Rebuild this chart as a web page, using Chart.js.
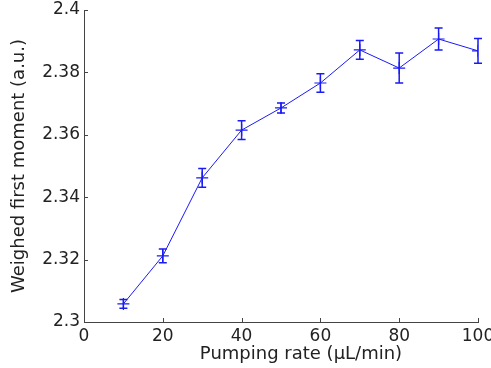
<!DOCTYPE html>
<html>
<head>
<meta charset="utf-8">
<script src="https://cdn.jsdelivr.net/npm/chart.js@4.4.0/dist/chart.umd.min.js"></script>
<style>
  html, body { margin: 0; padding: 0; background: #fff; }
  #wrap { width: 491px; height: 368px; }
</style>
</head>
<body>
<div id="wrap"><canvas id="momentChart"></canvas></div>
<script>
var pumpRates = [10, 20, 30, 40, 50, 60, 70, 80, 90, 100];
var firstMoment = [2.3058, 2.3212, 2.3462, 2.3615, 2.3686, 2.3766, 2.3872, 2.3814, 2.3907, 2.3869];
var momentErr = [0.0014, 0.0022, 0.003, 0.003, 0.0016, 0.003, 0.003, 0.0048, 0.0035, 0.004];
var xTicks = [0, 20, 40, 60, 80, 100];
var yTicks = [2.3, 2.32, 2.34, 2.36, 2.38, 2.4];

var axisColor = '#444';
var lineBlue = '#1a1af5';
var fontName = 'DejaVu Sans';

var points = pumpRates.map(function (r, i) {
    return { x: r, y: firstMoment[i] };
});

// error bars and inward tick marks, drawn through the chart scales
var extras = {
    id: 'extras',
    afterDatasetsDraw: function (chart) {
        var ctx = chart.ctx;
        var xs = chart.scales.x;
        var ys = chart.scales.y;
        var area = chart.chartArea;
        ctx.save();
        ctx.strokeStyle = lineBlue;
        ctx.lineWidth = 1.5;
        pumpRates.forEach(function (r, i) {
            var px = xs.getPixelForValue(r);
            var top = ys.getPixelForValue(firstMoment[i] + momentErr[i]);
            var bot = ys.getPixelForValue(firstMoment[i] - momentErr[i]);
            ctx.beginPath();
            ctx.moveTo(px, top); ctx.lineTo(px, bot);
            ctx.moveTo(px - 4, top); ctx.lineTo(px + 4, top);
            ctx.moveTo(px - 4, bot); ctx.lineTo(px + 4, bot);
            ctx.stroke();
        });
        ctx.strokeStyle = axisColor;
        ctx.lineWidth = 1;
        xTicks.forEach(function (v) {
            var px = Math.round(xs.getPixelForValue(v)) + 0.5;
            ctx.beginPath();
            ctx.moveTo(px, area.bottom); ctx.lineTo(px, area.bottom - 4);
            ctx.stroke();
        });
        yTicks.forEach(function (v) {
            var py = Math.round(ys.getPixelForValue(v)) + 0.5;
            ctx.beginPath();
            ctx.moveTo(area.left, py); ctx.lineTo(area.left + 4, py);
            ctx.stroke();
        });
        ctx.fillStyle = '#222';
        ctx.font = '18px "' + fontName + '"';
        ctx.textAlign = 'center';
        ctx.textBaseline = 'middle';
        ctx.fillText('Pumping rate (µL/min)', 301, 354);
        ctx.restore();
    }
};

var ctx = document.getElementById('momentChart').getContext('2d');

var myChart = new Chart(ctx, {
    type: 'line',
    data: {
        datasets: [{
            label: 'Weighed first moment',
            data: points,
            borderColor: lineBlue,
            borderWidth: 1,
            pointStyle: 'cross',
            pointRadius: 6,
            pointBorderColor: lineBlue,
            pointBorderWidth: 1.2,
            tension: 0,
            fill: false
        }]
    },
    plugins: [extras],
    options: {
        responsive: true,
        maintainAspectRatio: false,
        animation: false,
        layout: { padding: { top: 10, right: 13, left: 0, bottom: 0 } },
        plugins: {
            legend: { display: false },
            tooltip: { enabled: false }
        },
        scales: {
            x: {
                type: 'linear',
                min: 0,
                max: 100,
                afterBuildTicks: function (scale) {
                    scale.ticks = xTicks.map(function (v) { return { value: v }; });
                },
                afterFit: function (scale) {
                    scale.height = 46;
                    scale.paddingLeft = 0;
                    scale.paddingRight = 0;
                },
                grid: { drawOnChartArea: false, drawTicks: false, color: 'rgba(0,0,0,0)' },
                border: { display: true, color: axisColor, width: 1 },
                ticks: {
                    padding: 4,
                    maxRotation: 0,
                    autoSkip: false,
                    color: '#222',
                    font: { family: fontName, size: 17 }
                }
            },
            y: {
                type: 'linear',
                min: 2.3,
                max: 2.4,
                afterBuildTicks: function (scale) {
                    scale.ticks = yTicks.map(function (v) { return { value: v }; });
                },
                afterFit: function (scale) {
                    scale.width = 84;
                    scale.paddingTop = 0;
                    scale.paddingBottom = 0;
                },
                grid: { drawOnChartArea: false, drawTicks: false, color: 'rgba(0,0,0,0)' },
                border: { display: true, color: axisColor, width: 1 },
                ticks: {
                    padding: 4,
                    autoSkip: false,
                    color: '#222',
                    font: { family: fontName, size: 17 },
                    callback: function (v) { return String(Math.round(v * 100) / 100); }
                },
                title: {
                    display: true,
                    text: 'Weighed first moment (a.u.)',
                    color: '#222',
                    font: { family: fontName, size: 18 },
                    padding: { top: 9, bottom: 0 }
                }
            }
        }
    }
});
</script>
</body>
</html>
